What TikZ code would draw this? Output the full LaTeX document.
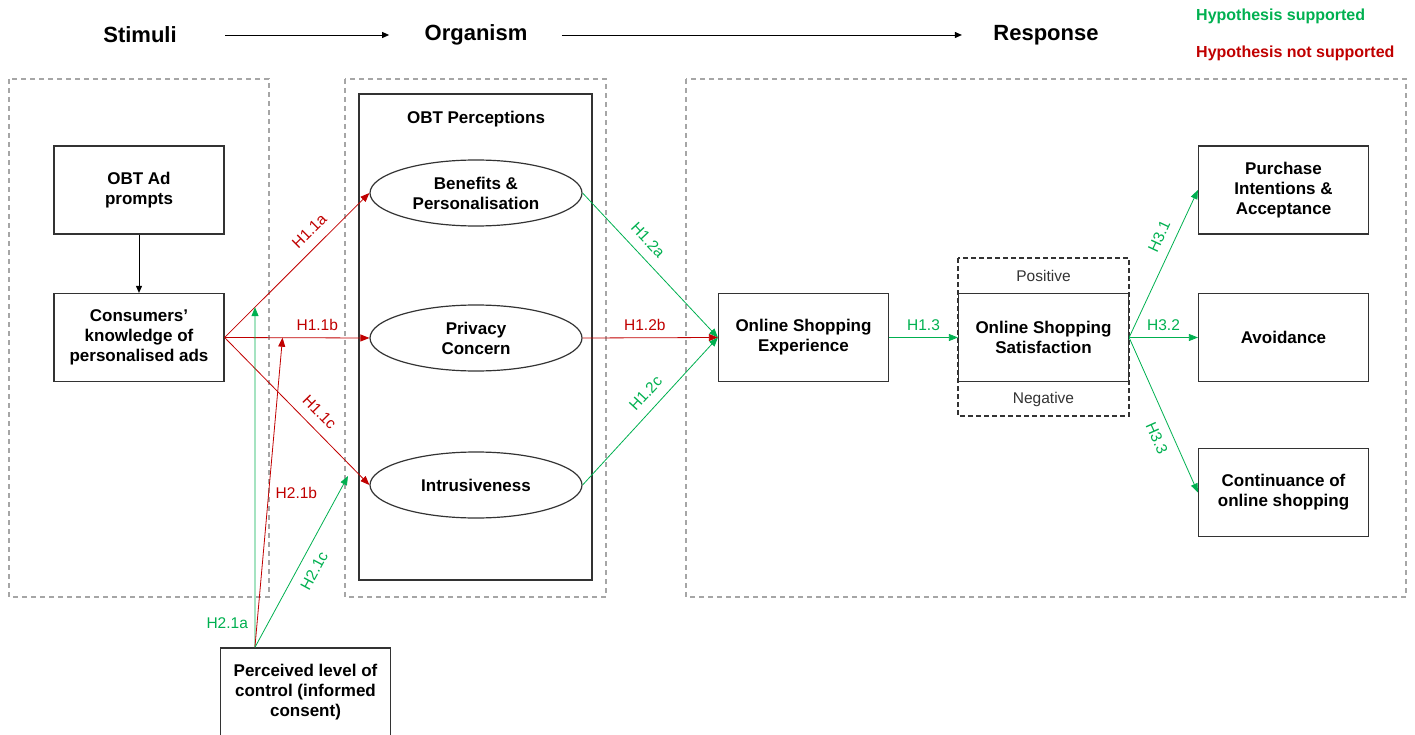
\documentclass[tikz,border=0pt]{standalone}
\usepackage{fontspec}
\setmainfont{Liberation Sans}
\usetikzlibrary{arrows.meta,shapes.geometric,calc}
\definecolor{hgreen}{RGB}{0,176,80}
\definecolor{hred}{RGB}{192,0,0}

\begin{document}
\begin{tikzpicture}[x=1pt, y=-1pt,
  box/.style={draw=black!80, line width=1.2pt, minimum width=170, minimum height=88, align=center, font=\bfseries\fontsize{17}{20}\selectfont},
  oval/.style={ellipse, draw=black!80, line width=1.2pt, minimum width=212, minimum height=66, inner sep=0pt, align=center, font=\bfseries\fontsize{17}{20}\selectfont},
  zone/.style={draw=black!35, line width=1.2pt, dash pattern=on 5pt off 4pt},
  head/.style={font=\bfseries\fontsize{22}{26}\selectfont},
  legend/.style={anchor=west, inner sep=0pt, font=\bfseries\fontsize{16}{19}\selectfont},
  lab/.style={font=\fontsize{15.5}{18}\selectfont, inner sep=3pt, outer sep=4pt},
  glab/.style={lab, text=hgreen},
  rlab/.style={lab, text=hred},
  far/.style={outer sep=7pt},
  supp/.style={draw=hgreen, line width=0.8pt, -{Triangle[length=9pt,width=7pt]}},
  nsupp/.style={draw=hred, line width=0.8pt, -{Triangle[length=9pt,width=7pt]}},
  flow/.style={draw=black, line width=0.9pt, -{Triangle[length=7pt,width=6pt]}}]
\useasboundingbox (0,0) rectangle (1415,735);

\node[head] (stim) at (140,35) {Stimuli};
\node[head] (org) at (476,35) {Organism};
\node[head] (resp) at (1046,35) {Response};
\draw[flow, shorten <=45pt, shorten >=32pt] (stim.east) -- (org.west);
\draw[flow, shorten <=31pt, shorten >=28pt] (org.east) -- (resp.west);
\node[legend, text=hgreen] (lsup) at (1196,16) {Hypothesis supported};
\node[legend, text=hred] (lnsup) at (1196,53) {Hypothesis not supported};

\draw[zone] (9,79) rectangle (269,597);
\draw[zone] (345,79) rectangle (606,597);
\draw[zone] (686,79) rectangle (1406,597);

\node[box] (adp) at (139,190) {OBT Ad\\prompts};
\node[box] (know) at (139,337.5) {Consumers'\\knowledge of\\personalised ads};
\node[box] (ctrl) at (305.5,692) {Perceived level of\\control (informed\\consent)};
\draw[flow] (adp) -- (know);

\draw[draw=black!80, line width=1.2pt] (359,94) rectangle (592,580);
\node[font=\bfseries\fontsize{17}{20}\selectfont] (obt) at (476,119) {OBT Perceptions};
\node[oval] (ben) at (476,193) {Benefits \&\\Personalisation};
\node[oval] (priv) at (476,338) {Privacy\\Concern};
\node[oval] (intr) at (476,485) {Intrusiveness};

\node[box] (ose) at (803.5,337.5) {Online Shopping\\Experience};
\draw[draw=black!80, line width=1.2pt, dash pattern=on 5pt off 3pt] (958,258) rectangle (1129,416);
\node[box] (sat) at (1043.5,337.5) {Online Shopping\\Satisfaction};
\node[font=\fontsize{15.5}{18}\selectfont, text=black!80] (pos) at (1043.5,276) {Positive};
\node[font=\fontsize{15.5}{18}\selectfont, text=black!80] (neg) at (1043.5,399) {Negative};

\node[box] (pur) at (1283.5,190) {Purchase\\Intentions \&\\Acceptance};
\node[box] (avo) at (1283.5,337.5) {Avoidance};
\node[box] (cont) at (1283.5,492.5) {Continuance of\\online shopping};

\draw[nsupp] (know.east) -- node[rlab, far, sloped, above, pos=0.66] {H1.1a} (ben.west);
\draw[nsupp] (know.east) -- node[rlab, above, pos=0.64] {H1.1b} (priv.west);
\draw[nsupp] (know.east) -- node[rlab, far, sloped, above, pos=0.58] {H1.1c} (intr.west);

\coordinate (ma) at ($(know.east)!0.21!(ben.west)$);
\coordinate (mb) at ($(know.east)!0.4!(priv.west)$);
\coordinate (mc) at (348,476);
\draw[supp] ([xshift=35pt]ctrl.north west) -- node[glab, left, pos=0.07] {H2.1a} (ma);
\draw[nsupp] ([xshift=35pt]ctrl.north west) -- node[rlab, right, pos=0.5] {H2.1b} (mb);
\draw[supp] ([xshift=35pt]ctrl.north west) -- node[glab, far, sloped, below, pos=0.49] {H2.1c} (mc);

\draw[supp] (ben.east) -- node[glab, far, sloped, above, pos=0.4] {H1.2a} (ose.west);
\draw[nsupp] (priv.east) -- node[rlab, above, pos=0.46] {H1.2b} (ose.west);
\draw[supp] (intr.east) -- node[glab, far, sloped, above, pos=0.55] {H1.2c} (ose.west);
\draw[supp] (ose.east) -- node[glab, above] {H1.3} (sat.west);

\draw[supp] (sat.east) -- node[glab, far, sloped, above, pos=0.64] {H3.1} (pur.west);
\draw[supp] (sat.east) -- node[glab, above] {H3.2} (avo.west);
\draw[supp] (sat.east) -- node[glab, far, sloped, below, pos=0.61] {H3.3} (cont.west);
\end{tikzpicture}
\end{document}
